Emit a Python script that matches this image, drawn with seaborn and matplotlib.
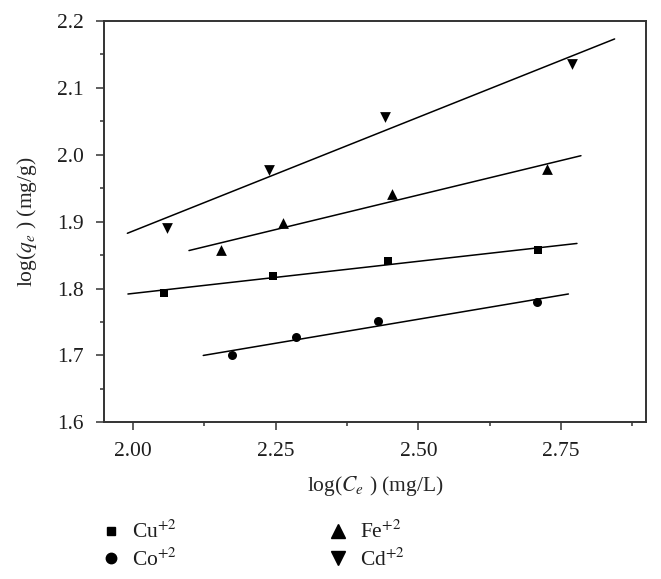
import numpy as np
import matplotlib
matplotlib.use('Agg')
import matplotlib.pyplot as plt
import seaborn as sns
from matplotlib.ticker import MultipleLocator, FormatStrFormatter

# log(Ce) / log(qe), one pair of lists per ion
cu_x = [2.055, 2.245, 2.447, 2.710]
cu_y = [1.794, 1.819, 1.841, 1.857]
co_x = [2.174, 2.286, 2.430, 2.708]
co_y = [1.701, 1.727, 1.751, 1.780]
fe_x = [2.154, 2.262, 2.454, 2.726]
fe_y = [1.857, 1.898, 1.942, 1.979]
cd_x = [2.060, 2.238, 2.442, 2.770]
cd_y = [1.890, 1.977, 2.056, 2.135]

# x extent of each fitted Freundlich line
cu_fit = [1.991, 2.778]
co_fit = [2.123, 2.763]
fe_fit = [2.098, 2.785]
cd_fit = [1.990, 2.844]

labels = [r'Cu$^{+2}$', r'Co$^{+2}$', r'Fe$^{+2}$', r'Cd$^{+2}$']
markers = ['s', 'o', '^', 'v']
sizes = [28, 42, 60, 60]
legend_ms = [5.5, 7.5, 10.5, 10.5]

INK = '#1e1e1e'

sns.set_theme(style='ticks')
plt.rcParams['font.family'] = ['Liberation Serif', 'DejaVu Serif']
plt.rcParams['mathtext.fontset'] = 'stix'
plt.rcParams['text.color'] = INK

fig = plt.figure(figsize=(6.61, 5.79), dpi=100)
ax = fig.add_axes([0.1573, 0.2705, 0.820, 0.6932])

series = [(cu_x, cu_y, cu_fit), (co_x, co_y, co_fit),
          (fe_x, fe_y, fe_fit), (cd_x, cd_y, cd_fit)]

handles = []
for (xs, ys, rng), mk, sz, ms in zip(series, markers, sizes, legend_ms):
    sns.scatterplot(x=xs, y=ys, marker=mk, s=sz, color='black',
                    edgecolor='black', linewidth=0, ax=ax)
    k, b = np.polyfit(xs, ys, 1)
    xr = np.array(rng)
    ax.plot(xr, k * xr + b, color='black', lw=1.1)
    handles.append(plt.Line2D([], [], ls='none', marker=mk, color='black',
                              markersize=ms))

ax.set_xlim(1.949, 2.899)
ax.set_ylim(1.6, 2.2)
ax.xaxis.set_major_locator(MultipleLocator(0.25))
ax.xaxis.set_minor_locator(MultipleLocator(0.125))
ax.yaxis.set_major_locator(MultipleLocator(0.1))
ax.yaxis.set_minor_locator(MultipleLocator(0.05))
ax.xaxis.set_major_formatter(FormatStrFormatter('%.2f'))
ax.yaxis.set_major_formatter(FormatStrFormatter('%.1f'))

for sp in ax.spines.values():
    sp.set_linewidth(1.4)
    sp.set_color('#333333')
ax.tick_params(which='major', direction='out', length=5.8, width=1.1,
               labelsize=15.5, color='#333333', labelcolor=INK, pad=8.5)
ax.tick_params(which='minor', direction='out', length=3, width=1.1,
               color='#333333')
ax.tick_params(top=False, right=False, which='both')

ax.set_xlabel(r'log($C_e$ ) (mg/L)', fontsize=15.5, labelpad=9)
ax.set_ylabel(r'log($q_e$ ) (mg/g)', fontsize=15.5, labelpad=13)

fig.legend(handles, labels, loc='upper left', bbox_to_anchor=(0.151, 0.100),
           ncol=2, frameon=False, fontsize=15.5, handlelength=1.0,
           handletextpad=0.5, columnspacing=7.0, labelspacing=0.25,
           borderpad=0, borderaxespad=0)

fig.savefig('out.png', dpi=100)
